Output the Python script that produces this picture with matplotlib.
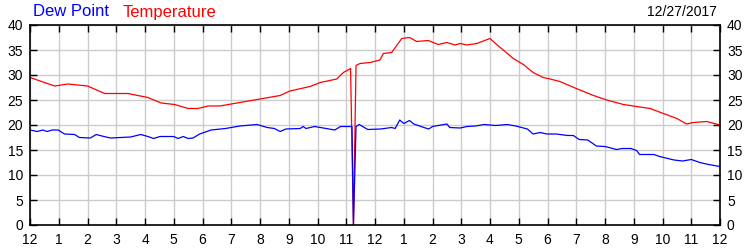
import matplotlib
matplotlib.use("Agg")
import matplotlib.pyplot as plt

plt.rcParams['font.family'] = ['Liberation Sans', 'DejaVu Sans']

# hours since midnight
temp_hours = [0, 0.4, 0.86, 1.32, 2.0, 2.6, 3.4, 4.1, 4.56, 5.03, 5.5, 5.84, 6.19,
              6.6, 7.3, 8.0, 8.7, 9.04, 9.74, 10.1, 10.67, 10.9, 11.15, 11.25,
              11.34, 11.48, 11.83, 12.17, 12.29, 12.58, 12.93, 13.2, 13.45, 13.85,
              14.2, 14.5, 14.78, 14.96, 15.19, 15.54, 16.0, 16.23, 16.46, 16.81,
              17.16, 17.5, 17.85, 18.09, 18.43, 19.0, 19.6, 20.06, 20.64, 21.1,
              21.57, 22.03, 22.5, 22.84, 23.07, 23.54, 24.0]
temperature = [29.5, 28.7, 27.8, 28.2, 27.8, 26.3, 26.3, 25.5, 24.4, 24.1, 23.3, 23.3, 23.8,
               23.8, 24.5, 25.2, 25.9, 26.8, 27.7, 28.5, 29.2, 30.5, 31.3, 0,
               31.9, 32.3, 32.5, 33.0, 34.3, 34.5, 37.3, 37.5, 36.7, 36.9,
               36.1, 36.5, 36.0, 36.3, 36.0, 36.3, 37.3, 36.1, 35.0, 33.3,
               32.1, 30.5, 29.5, 29.2, 28.7, 27.3, 25.9, 25.0, 24.1, 23.7,
               23.3, 22.3, 21.3, 20.2, 20.5, 20.7, 20.0]

dew_hours = [0, 0.25, 0.44, 0.6, 0.77, 0.98, 1.2, 1.55, 1.72, 2.1, 2.3, 2.5, 2.8, 3.5,
             3.85, 4.1, 4.3, 4.52, 5.0, 5.15, 5.33, 5.5, 5.67, 5.9, 6.3, 6.8, 7.3,
             7.9, 8.25, 8.5, 8.7, 8.9, 9.4, 9.5, 9.6, 9.9, 10.3, 10.6, 10.8, 11.2,
             11.25, 11.34, 11.45, 11.75, 12.2, 12.58, 12.7, 12.86, 13.0, 13.2,
             13.35, 13.7, 13.87, 14.0, 14.5, 14.6, 14.96, 15.2, 15.5, 15.8, 16.2,
             16.6, 16.9, 17.3, 17.5, 17.75, 17.97, 18.3, 18.7, 18.9, 19.1, 19.4,
             19.7, 20.0, 20.4, 20.6, 20.9, 21.1, 21.2, 21.7, 21.9, 22.4, 22.7,
             23.0, 23.3, 23.6, 24.0]
dew_point = [19.0, 18.7, 19.0, 18.7, 19.0, 19.0, 18.2, 18.1, 17.5, 17.4, 18.1, 17.8, 17.4, 17.6,
             18.1, 17.7, 17.3, 17.7, 17.7, 17.3, 17.7, 17.3, 17.4, 18.2, 19.0, 19.3, 19.8,
             20.1, 19.5, 19.3, 18.7, 19.2, 19.3, 19.7, 19.3, 19.7, 19.3, 19.0, 19.7, 19.7,
             0, 19.7, 20.1, 19.1, 19.2, 19.5, 19.3, 21.0, 20.3, 20.9,
             20.2, 19.5, 19.2, 19.7, 20.2, 19.5, 19.4, 19.7, 19.8, 20.1, 19.9,
             20.1, 19.8, 19.2, 18.2, 18.5, 18.2, 18.2, 17.9, 17.9, 17.1, 17.0,
             15.8, 15.7, 15.1, 15.3, 15.3, 14.9, 14.1, 14.1, 13.7, 13.0, 12.8,
             13.1, 12.5, 12.1, 11.7]

hour_ticks = list(range(25))
hour_labels = ['12'] + [str(h) for h in range(1, 12)] + ['12'] + [str(h) for h in range(1, 12)] + ['12']
y_ticks = [0, 5, 10, 15, 20, 25, 30, 35, 40]

fig = plt.figure(figsize=(7.5, 2.5), dpi=100)
ax = fig.add_axes([30 / 750, 25 / 250, 690 / 750, 200 / 250])

ax.plot(temp_hours, temperature, color='#ff0000', linewidth=0.9)
ax.plot(dew_hours, dew_point, color='#0000ff', linewidth=0.9)

ax.set_xlim(0, 24)
ax.set_ylim(0, 40)
ax.set_xticks(hour_ticks)
ax.set_xticklabels(hour_labels)
ax.set_yticks(y_ticks)
ax.grid(True, color='#cccccc', linewidth=1)
ax.set_axisbelow(True)

ax.tick_params(direction='in', length=5, width=1, labelsize=10, colors='black',
               top=True, right=True, labelright=True)
ax.tick_params(axis='y', pad=5)
ax.tick_params(axis='x', pad=6)
for s in ax.spines.values():
    s.set_linewidth(1.2)

fig.text(33 / 750, 1 - 12 / 250, 'Dew Point', color='#0000ff', fontsize=12, va='center')
fig.text(123 / 750, 1 - 12 / 250, 'Temperature', color='#ff0000', fontsize=12, va='center')
fig.text(717 / 750, 1 - 12 / 250, '12/27/2017', color='black', fontsize=10, va='center', ha='right')

fig.savefig('out.png', dpi=100)
